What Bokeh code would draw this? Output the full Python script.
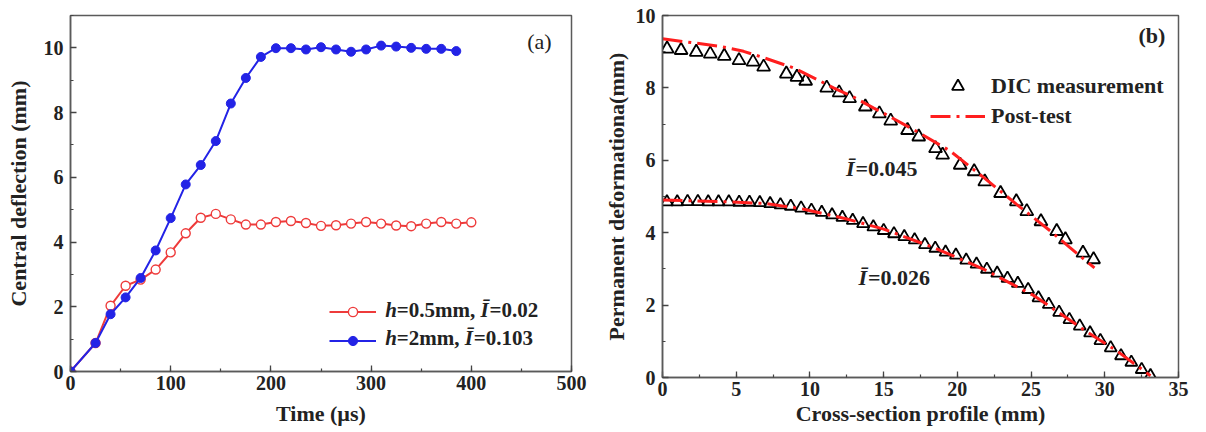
from bokeh.plotting import figure
from bokeh.layouts import row
from bokeh.models import Range1d, Label, Legend, LegendItem, SingleIntervalTicker
from bokeh.embed import file_html
from bokeh.resources import INLINE

# ---------------- Panel (a) data ----------------
time_red = [0, 25, 40, 55, 70, 85, 100, 115, 130, 145, 160, 175, 190, 205, 220,
            235, 250, 265, 280, 295, 310, 325, 340, 355, 370, 385, 400]
defl_red = [0, 0.88, 2.03, 2.65, 2.84, 3.15, 3.68, 4.27, 4.75, 4.87, 4.70, 4.54,
            4.54, 4.62, 4.65, 4.59, 4.50, 4.52, 4.57, 4.62, 4.57, 4.51, 4.49, 4.57,
            4.62, 4.57, 4.61]
time_blue = [0, 25, 40, 55, 70, 85, 100, 115, 130, 145, 160, 175, 190, 205, 220,
             235, 250, 265, 280, 295, 310, 325, 340, 355, 370, 385]
defl_blue = [0, 0.88, 1.77, 2.29, 2.89, 3.74, 4.74, 5.78, 6.38, 7.12, 8.28, 9.07,
             9.72, 9.99, 9.99, 9.95, 10.02, 9.95, 9.88, 9.95, 10.07, 10.04, 10.00,
             9.97, 9.97, 9.90]
label_red_h, label_red_rest, label_red_i = "h", "=0.5mm, ", "=0.02"
label_blue_h, label_blue_rest, label_blue_i = "h", "=2mm, ", "=0.103"

# ---------------- Panel (b) data ----------------
dic_hi_x = [0.31, 1.26, 2.29, 3.24, 4.19, 5.19, 6.14, 6.86, 8.40, 9.12, 9.71, 11.14,
            11.98, 12.69, 13.76, 14.71, 15.48, 16.62, 17.38, 18.52, 19.00, 20.19,
            21.14, 21.86, 22.93, 24.00, 24.71, 25.67, 26.74, 27.33, 28.52, 29.24]
dic_hi_y = [9.08, 9.04, 8.99, 8.94, 8.88, 8.76, 8.72, 8.58, 8.39, 8.30, 8.19, 8.00,
            7.87, 7.71, 7.48, 7.29, 7.09, 6.83, 6.65, 6.33, 6.15, 5.87, 5.69, 5.41,
            5.09, 4.86, 4.59, 4.31, 4.04, 3.81, 3.44, 3.26]
post_hi_x = [0, 1.6, 3.9, 5.5, 6.9, 8.9, 10.5, 11.6, 13.0, 14.3, 15.0, 17.2, 19.5,
             21.8, 24.0, 26.3, 27.6, 29.3]
post_hi_y = [9.36, 9.27, 9.15, 9.01, 8.83, 8.55, 8.23, 8.00, 7.74, 7.45, 7.30, 6.81,
             6.26, 5.52, 4.79, 4.05, 3.60, 3.03]
dic_lo_x = [0.3, 1.0, 1.7, 2.4, 3.1, 3.8, 4.5, 5.2, 5.9, 6.6, 7.3, 8.0, 8.7, 9.4,
            10.1, 10.8, 11.5, 12.2, 12.9, 13.6, 14.3, 15.0, 15.7, 16.4, 17.1, 17.8,
            18.5, 19.2, 19.9, 20.6, 21.3, 22.0, 22.7, 23.4, 24.1, 24.8, 25.5, 26.2,
            26.9, 27.6, 28.3, 29.0, 29.7, 30.4, 31.1, 31.8, 32.5, 33.1]
dic_lo_y = [4.85, 4.85, 4.86, 4.86, 4.85, 4.85, 4.85, 4.84, 4.84, 4.83, 4.80, 4.77,
            4.73, 4.68, 4.62, 4.56, 4.49, 4.42, 4.34, 4.25, 4.16, 4.06, 3.97, 3.89,
            3.80, 3.67, 3.57, 3.46, 3.38, 3.24, 3.13, 2.99, 2.88, 2.74, 2.60, 2.43,
            2.20, 2.02, 1.80, 1.60, 1.42, 1.23, 1.02, 0.82, 0.60, 0.42, 0.22, 0.05]
post_lo_x = [0, 3.9, 6.9, 9.6, 12.5, 15.0, 18.4, 21.8, 25.2, 28.5, 30.8, 33.1]
post_lo_y = [4.90, 4.86, 4.81, 4.65, 4.38, 4.10, 3.59, 2.99, 2.26, 1.34, 0.74, 0.05]
impulse_hi = "=0.045"
impulse_lo = "=0.026"

SERIF = "Liberation Serif"
RED_A = "#ee3b3b"
BLUE_A = "#2323e6"
RED_B = "#ff1e1e"
FRAME = "#5a5a5a"


def style(p, xlabel, ylabel):
    p.grid.visible = False
    p.outline_line_color = FRAME
    p.outline_line_width = 1.5
    p.background_fill_color = "white"
    p.border_fill_color = "white"
    for ax in (p.xaxis[0], p.yaxis[0]):
        ax.axis_line_color = FRAME
        ax.axis_line_width = 1.5
        ax.major_tick_in = 6
        ax.major_tick_out = 0
        ax.minor_tick_in = 3
        ax.minor_tick_out = 0
        ax.major_tick_line_color = "#444444"
        ax.minor_tick_line_color = "#444444"
        ax.major_tick_line_width = 1.3
        ax.minor_tick_line_width = 1.2
        ax.major_label_text_font = SERIF
        ax.major_label_text_font_style = "bold"
        ax.major_label_text_font_size = "20px"
        ax.major_label_text_color = "#222222"
        ax.axis_label_text_font = SERIF
        ax.axis_label_text_font_style = "bold"
        ax.axis_label_text_font_size = "22px"
        ax.axis_label_text_color = "#222222"
    p.xaxis[0].axis_label = xlabel
    p.yaxis[0].axis_label = ylabel
    p.xaxis[0].major_label_standoff = 4
    p.yaxis[0].major_label_standoff = 7


def rich(p, x, y, parts, size):
    off = 0.0
    for text, st, w in parts:
        p.add_layout(Label(x=x, y=y, x_offset=off, text=text, text_font=SERIF,
                           text_font_style=st, text_font_size=size,
                           text_baseline="middle", text_align="left",
                           text_color="#222222"))
        off += w


# ---------------- Panel (a) ----------------
pa = figure(frame_width=501, frame_height=356, min_border_left=70, min_border_right=29,
            min_border_top=15, min_border_bottom=61,
            x_range=Range1d(0, 500), y_range=Range1d(0, 11),
            output_backend="svg", toolbar_location=None)
style(pa, "Time (\u00b5s)", "Central deflection (mm)")
pa.xaxis[0].ticker = SingleIntervalTicker(interval=100, num_minor_ticks=2)
pa.yaxis[0].ticker = SingleIntervalTicker(interval=2, num_minor_ticks=2)
pa.xaxis[0].axis_label_standoff = 8
pa.yaxis[0].axis_label_standoff = 10

rl = pa.line(time_red, defl_red, line_color=RED_A, line_width=2)
rp = pa.scatter(time_red, defl_red, marker="circle", size=9, fill_color="white",
                line_color=RED_A, line_width=1.4)
bl = pa.line(time_blue, defl_blue, line_color=BLUE_A, line_width=2)
bp = pa.scatter(time_blue, defl_blue, marker="circle", size=9, fill_color=BLUE_A,
                line_color=BLUE_A, line_width=1)

leg_a = Legend(items=[LegendItem(label=" ", renderers=[rl, rp]),
                      LegendItem(label=" ", renderers=[bl, bp])],
               location=(259, 19), glyph_width=47, glyph_height=23, label_height=23,
               spacing=6, padding=0, margin=0, label_standoff=0, label_width=0,
               border_line_alpha=0, background_fill_alpha=0,
               label_text_font_size="20px")
pa.add_layout(leg_a)

fs_a = "21px"
rich(pa, 314, 1.91, [(label_red_h, "bold italic", 11.7), (label_red_rest, "bold", 83.7),
                     ("\u012a", "bold italic", 9.0), (label_red_i, "bold", 0)], fs_a)
rich(pa, 314, 1.03, [(label_blue_h, "bold italic", 11.7), (label_blue_rest, "bold", 68.0),
                     ("\u012a", "bold italic", 9.0), (label_blue_i, "bold", 0)], fs_a)
pa.add_layout(Label(x=468, y=10.2, text="(a)", text_font=SERIF, text_font_size="22px",
                    text_align="center", text_baseline="middle", text_color="#222222"))

# ---------------- Panel (b) ----------------
pb = figure(frame_width=516, frame_height=362, min_border_left=59, min_border_right=31,
            min_border_top=15, min_border_bottom=55,
            x_range=Range1d(0, 35), y_range=Range1d(0, 10),
            output_backend="svg", toolbar_location=None)
style(pb, "Cross-section profile (mm)", "Permanent deformationa(mm)")
pb.xaxis[0].ticker = SingleIntervalTicker(interval=5, num_minor_ticks=2)
pb.yaxis[0].ticker = SingleIntervalTicker(interval=2, num_minor_ticks=2)
pb.xaxis[0].axis_label_standoff = 2
pb.yaxis[0].axis_label_standoff = 4

DASH = "20 6 3 6"
th = pb.scatter(dic_hi_x, dic_hi_y, marker="triangle", size=13, fill_alpha=0,
                line_color="black", line_width=1.8)
pb.scatter(dic_lo_x, dic_lo_y, marker="triangle", size=12, fill_alpha=0,
           line_color="black", line_width=1.8)
ph = pb.line(post_hi_x, post_hi_y, line_color=RED_B, line_width=3, line_dash=DASH)
pb.line(post_lo_x, post_lo_y, line_color=RED_B, line_width=3, line_dash=DASH)

leg_b = Legend(items=[LegendItem(label="DIC measurement", renderers=[th]),
                      LegendItem(label="Post-test", renderers=[ph])],
               location=(268, 246), glyph_width=55, glyph_height=30, label_height=30,
               spacing=0, padding=0, margin=0, label_standoff=6,
               border_line_alpha=0, background_fill_alpha=0,
               label_text_font=SERIF, label_text_font_style="bold",
               label_text_font_size="22px", label_text_color="#222222")
pb.add_layout(leg_b)

fs_b = "22px"
rich(pb, 12.45, 5.78, [("\u012a", "bold italic", 9.5), (impulse_hi, "bold", 0)], fs_b)
rich(pb, 13.3, 2.75, [("\u012a", "bold italic", 9.5), (impulse_lo, "bold", 0)], fs_b)
pb.add_layout(Label(x=33.2, y=9.45, text="(b)", text_font=SERIF, text_font_size="22px",
                    text_font_style="bold", text_align="center", text_baseline="middle",
                    text_color="#222222"))

layout = row(pa, pb)
open("out.html", "w").write(file_html(layout, INLINE))
